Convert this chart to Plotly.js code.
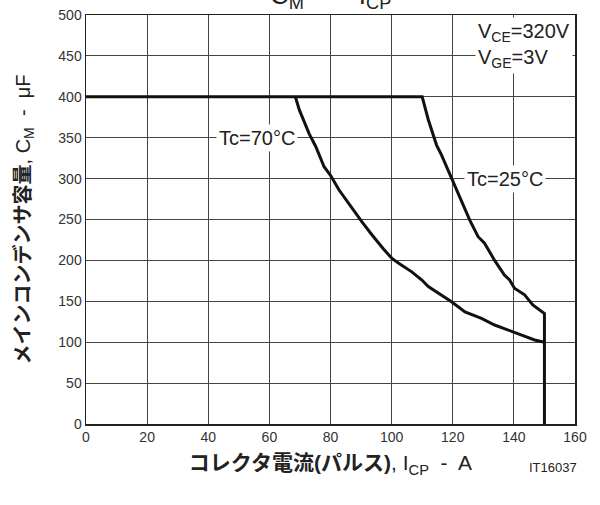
<!DOCTYPE html>
<html>
<head>
<meta charset="utf-8">
<script src="https://cdn.plot.ly/plotly-3.0.1.min.js"></script>
<style>html,body{margin:0;padding:0;background:#fff;}#chart{width:600px;height:505px;}</style>
</head>
<body>
<div id="chart"></div>
<script>
// Tc = 25°C curve (flat at 400 µF, then falling, then vertical drop at 150 A)
const tc25_x = [0, 110, 112, 114.7, 116.3, 119.6, 122.3, 125.6, 128.3, 130.4, 133.7, 136.9, 138.6, 140.2, 143.5, 146.2, 150, 150];
const tc25_y = [400, 400, 372, 341, 329, 300, 278, 249, 229, 221, 200, 182, 176, 166, 158, 145.5, 135, 0];
// Tc = 70°C curve
const tc70_x = [68.5, 69.8, 73.0, 75.2, 77.9, 80.0, 82.8, 86.6, 90.3, 93.6, 95.7, 97.4, 100.1, 102.3, 106.6, 109.9, 112.0, 119.6, 124.0, 129.4, 133.7, 140.2, 146.8, 150];
const tc70_y = [400, 384, 355, 339, 314.5, 304, 286, 265.6, 247, 231, 221, 213.6, 202.5, 196.5, 186, 176, 168, 149.5, 137, 129, 121, 111.6, 102.7, 100];
const xTicks = [0, 20, 40, 60, 80, 100, 120, 140, 160];
const yTicks = [0, 50, 100, 150, 200, 250, 300, 350, 400, 450, 500];
const labels = {
  tc70: {text: 'Tc=70°C', x: 56, y: 350},
  tc25: {text: 'Tc=25°C', x: 137, y: 300}
};

const FONT = 'Liberation Sans, Arial, Noto Sans CJK JP, sans-serif';
const lineStyle = {color: '#111', width: 3};

const traces = [
  {x: tc25_x, y: tc25_y, mode: 'lines', line: lineStyle, hoverinfo: 'skip', showlegend: false},
  {x: tc70_x, y: tc70_y, mode: 'lines', line: lineStyle, hoverinfo: 'skip', showlegend: false}
];

const layout = {
  width: 600, height: 505,
  margin: {l: 85.5, r: 25, t: 15, b: 81},
  paper_bgcolor: '#fff', plot_bgcolor: '#fff',
  font: {family: FONT, color: '#222', size: 14},
  xaxis: {
    range: [0, 160], tickvals: xTicks, ticktext: xTicks.map(String),
    showgrid: true, gridcolor: '#444', gridwidth: 1,
    zeroline: false, showline: true, mirror: true, linecolor: '#222', linewidth: 1.5,
    ticks: '', tickfont: {size: 14, color: '#333'},
    title: {text: '<b>コレクタ電流(パルス)</b>, I<sub>CP</sub>  -  A', font: {size: 21, color: '#222'}, standoff: 11}
  },
  yaxis: {
    range: [0, 500], tickvals: yTicks, ticktext: yTicks.map(String),
    showgrid: true, gridcolor: '#444', gridwidth: 1,
    zeroline: false, showline: true, mirror: true, linecolor: '#222', linewidth: 1.5,
    ticks: '', tickfont: {size: 14, color: '#333'},
    title: {text: '<b>メインコンデンサ容量</b>, C<sub>M</sub>  -  μF', font: {size: 20, color: '#222'}, standoff: 22}
  },
  annotations: [
    {text: labels.tc70.text, x: labels.tc70.x, y: labels.tc70.y, xref: 'x', yref: 'y', showarrow: false,
     font: {size: 20, color: '#222'}, bgcolor: '#fff', borderpad: 2},
    {text: labels.tc25.text, x: labels.tc25.x, y: labels.tc25.y, xref: 'x', yref: 'y', showarrow: false,
     font: {size: 20, color: '#222'}, bgcolor: '#fff', borderpad: 2},
    {text: 'V<sub>CE</sub>=320V<br>V<sub>GE</sub>=3V', x: 1, y: 1, xref: 'paper', yref: 'paper',
     xanchor: 'right', yanchor: 'top', xshift: -2, yshift: -2, align: 'left', showarrow: false,
     font: {size: 20, color: '#222'}, bgcolor: '#fff', borderpad: 2},
    {text: 'IT16037', x: 1, y: 0, xref: 'paper', yref: 'paper', xanchor: 'right', yanchor: 'top',
     yshift: -34, xshift: 4, showarrow: false, font: {size: 13, color: '#222'}},
    {text: 'C<sub>M</sub>  —  I<sub>CP</sub>', x: 0.5, y: 1, xref: 'paper', yref: 'paper',
     xanchor: 'center', yanchor: 'bottom', yshift: 0, showarrow: false, font: {size: 26, color: '#222'}}
  ]
};

Plotly.newPlot('chart', traces, layout, {displayModeBar: false, staticPlot: true});
</script>
</body>
</html>
